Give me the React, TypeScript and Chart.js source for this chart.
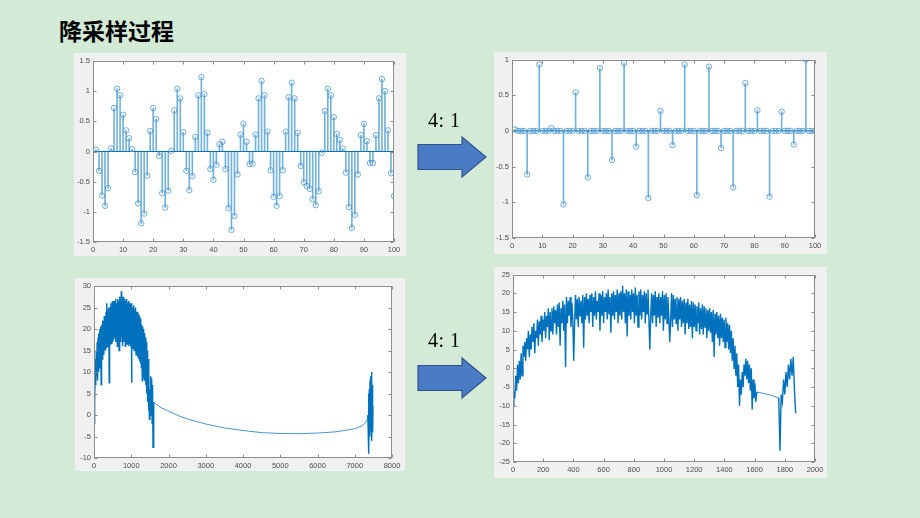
import React, { useEffect, useRef } from "react";
import { Chart, registerables } from "chart.js";

Chart.register(...registerables);

// ---------------- data ----------------
const TITLE = "降采样过程";
const RATIO_LABEL = "4: 1";

// original sequence (top-left stem plot), samples n = 1..100
const ORIGINAL_VALUES = [
  0.03, -0.32, -0.73, -0.9, -0.61, 0.05, 0.72, 1.04, 0.93, 0.61,
  0.35, 0.22, 0.04, -0.34, -0.86, -1.19, -1.03, -0.4, 0.34, 0.72,
  0.54, -0.07, -0.69, -0.93, -0.65, 0.01, 0.68, 1.04, 0.88, 0.32,
  -0.32, -0.64, -0.41, 0.24, 0.93, 1.23, 0.95, 0.31, -0.29, -0.47,
  -0.22, 0.12, 0.16, -0.29, -0.94, -1.3, -1.07, -0.38, 0.28, 0.46,
  0.16, -0.21, -0.2, 0.28, 0.88, 1.17, 0.93, 0.33, -0.31, -0.75,
  -0.9, -0.74, -0.31, 0.33, 0.9, 1.14, 0.88, 0.31, -0.24, -0.51,
  -0.57, -0.62, -0.79, -0.89, -0.66, -0.02, 0.67, 1.04, 0.93, 0.57,
  0.29, 0.19, 0.05, -0.35, -0.92, -1.27, -1.05, -0.38, 0.27, 0.46,
  0.17, -0.19, -0.19, 0.27, 0.88, 1.2, 1.0, 0.35, -0.36, -0.74,
];

// down-sampled sequence (top-right stem plot), samples n = 1..100
const DOWNSAMPLED_VALUES = [
  0.02, 0, 0, 0, -0.61, 0, 0, 0, 0.93, 0, 0, 0, 0.04, 0, 0, 0, -1.03, 0, 0, 0,
  0.54, 0, 0, 0, -0.65, 0, 0, 0, 0.88, 0, 0, 0, -0.41, 0, 0, 0, 0.95, 0, 0, 0,
  -0.22, 0, 0, 0, -0.94, 0, 0, 0, 0.28, 0, 0, 0, -0.2, 0, 0, 0, 0.93, 0, 0, 0,
  -0.9, 0, 0, 0, 0.9, 0, 0, 0, -0.24, 0, 0, 0, -0.79, 0, 0, 0, 0.67, 0, 0, 0,
  0.29, 0, 0, 0, -0.92, 0, 0, 0, 0.27, 0, 0, 0, -0.19, 0, 0, 0, 1.0, 0, 0, 0,
];

const STEM_X_TICKS = [0, 10, 20, 30, 40, 50, 60, 70, 80, 90, 100];
const TL_Y_TICKS = [-1.5, -1, -0.5, 0, 0.5, 1, 1.5];
const TR_Y_TICKS = [-1.5, -1, -0.5, 0, 0.5, 1];

// bottom-left spectrum (original): noisy band, smooth curve, tail burst
const BL_NOISE_START = 0;
const BL_NOISE_STEP = 12;
const BL_NOISE = [
  -2, 8, 3, 13, 7, 15, 9, 17, 8, 18,
  10, 19, 11, 20, 12, 20.5, 7, 21, 13, 22,
  14, 21.5, 14, 23, 15, 22.5, 15, 24, 15.5, 26,
  16, 24.5, 16, 25, 7.5, 25, 16.5, 26, 17, 25,
  16.5, 26.5, 17, 25.5, 17.5, 26.5, 18, 26, 17, 27,
  18, 26, 16, 27, 18, 26.5, 15, 27.5, 18, 26.5,
  17, 28.8, 18, 27, 16, 27.5, 17, 26.5, 17.5, 27,
  16, 26.5, 17, 27, 16.5, 26, 17, 26.5, 16, 26,
  16.5, 25.5, 16, 26, 7.5, 25.5, 15.5, 25, 16, 25.5,
  15, 24.5, 15, 25, 14, 24, 14.5, 24, 13.5, 23.5,
  13, 23, 12.5, 22.5, 12, 22, 11, 21, 8, 20.5,
  10, 20, 9, 19, 8, 18, 7, 17, 5, 15,
  3, 13, 1, 10, -1, 6, 1, 9, 0, 8.5,
  -2, 7, -7.5, 3,
];
const BL_CURVE_X = [1610, 1700, 1800, 2000, 2250, 2500, 2750, 3000, 3500, 4000, 4500, 5000, 5500, 6000, 6500, 7000, 7200, 7300, 7340];
const BL_CURVE_Y = [2.9, 2.3, 1.7, 0.9, -0.1, -0.9, -1.5, -2.1, -3.0, -3.6, -4.1, -4.3, -4.35, -4.2, -3.9, -3.2, -2.5, -1.7, -1.0];
const BL_TAIL_START = 7350;
const BL_TAIL_STEP = 10;
const BL_TAIL = [0, -3, 5, -9, 6, -5, 8, -2, 9, -3, 10, -6, 7, -4, 2];
const BL_X_TICKS = [0, 1000, 2000, 3000, 4000, 5000, 6000, 7000, 8000];
const BL_Y_TICKS = [-10, -5, 0, 5, 10, 15, 20, 25, 30];

// bottom-right spectrum (down-sampled)
const BR_NOISE_START = 0;
const BR_NOISE_STEP = 6;
const BR_NOISE = [
  -10, -6, -8, -2, -6, 1, -4, 2, -3, 4,
  -2, 6, 3, 7, 2, 8, 5, 10, 3, 9,
  5, 11, 7, 12, 4, 10, 8, 13, 6, 12.5,
  9, 14, 7, 13, 10, 15, 8, 14, 11, 16,
  7.5, 15, 10, 16, 9, 16.5, 12, 15.5, 9, 17,
  11, 17.5, 6, 16, 12, 18, 10, 17, 0.3, 19,
  12, 18, 14, 19, 11, 17.5, 13, 2, 12, 19.5,
  13, 18.5, 11, 19, 14, 18, 12, 19.5, 5.5, 19,
  13, 20, 14, 18.5, 12, 19.5, 15, 20, 11, 19,
  14, 20.5, 13, 18, 15, 20, 10, 19.5, 14, 20.5,
  12, 19, 15, 20, 13, 21, 14.5, 19, 9.5, 20,
  14, 20.5, 13, 19.5, 15, 21, 12, 20, 14, 20.5,
  13, 22, 15, 20, 12, 21, 8.5, 20.5, 14, 19.5,
  13, 21, 15, 20, 12, 21.5, 14, 19.5, 11, 20.5,
  14, 21, 13, 19.5, 15, 20.5, 12, 20, 14.5, 21,
  13, 5, 14, 20, 12, 19.5, 14, 20.5, 11, 19,
  13.5, 20, 12, 19, 14, 20.5, 10, 19.5, 13, 20,
  12, 19, 14, 7, 12.5, 20, 11, 19.5, 13, 18.5,
  12, 19, 10, 18.5, 13, 19, 11, 18, 12, 18.5,
  9, 17.5, 12, 18.5, 10.5, 17, 11, 18, 8, 17.5,
  11, 17, 10, 16.5, 12, 17.5, 9, 16, 10.5, 17,
  9, 16.5, 11, 16, 8, 15.5, 10, 16, 9.5, 15,
  7, 15.5, 3, 14.5, 9, 15, 8, 14, 6, 14.5,
  8, 13.5, 7, 13, 5.5, 13.5, 7, 12, 5, 11.5,
  4, 10, 2, 8, 0, 6, -2, 4, -5, 1,
  -10, -3, -7, -1, -5, 1, -2, 2.5, -3, 2,
  -4, 1, -6, 0, -11, -3, -8, -4, -9, -6.5,
];
const BR_CURVE_X = [1624, 1700, 1758];
const BR_CURVE_Y = [-6.4, -7.1, -7.9];
const BR_TAIL_START = 1760;
const BR_TAIL_STEP = 8;
const BR_TAIL = [-8, -22, -7, -9, -3, -7, -1, -5, 1, -3, 2.5, -2, 3, -6, -12];
const BR_X_TICKS = [0, 200, 400, 600, 800, 1000, 1200, 1400, 1600, 1800, 2000];
const BR_Y_TICKS = [-25, -20, -15, -10, -5, 0, 5, 10, 15, 20, 25];

// ---------------- styles ----------------
const PAGE_BG = "#d3ead6";
const PANEL_BG = "#f0f0f0";
const LINE_BLUE = "#0072BD";
const STEM_BLUE = "rgba(0,114,189,0.55)";
const THIN_BLUE = "#4a95d2";
const AXIS_COLOR = "#8c8c8c";
const TICK_COLOR = "#4d4d4d";
const TICK_FONT = "'Liberation Sans', Arial, sans-serif";

type Box = { left: number; top: number; width: number; height: number; padL: number; padT: number; padR: number; padB: number };

const TL_BOX: Box = { left: 74, top: 53, width: 332, height: 203, padL: 19, padT: 8, padR: 12, padB: 14 };
const TR_BOX: Box = { left: 494, top: 52, width: 333, height: 202, padL: 18, padT: 7, padR: 12, padB: 16 };
const BL_BOX: Box = { left: 75, top: 278, width: 330, height: 193, padL: 19, padT: 8, padR: 13, padB: 13 };
const BR_BOX: Box = { left: 494, top: 267, width: 333, height: 211, padL: 19, padT: 7, padR: 12, padB: 16 };

const fmt = (v: any) => String(Math.round(Number(v) * 100) / 100);

const framePlugin = {
  id: "matlabFrame",
  beforeDraw(chart: any) {
    const { ctx, chartArea: a } = chart;
    ctx.save();
    ctx.fillStyle = "#ffffff";
    ctx.fillRect(a.left, a.top, a.right - a.left, a.bottom - a.top);
    ctx.restore();
  },
  afterDraw(chart: any) {
    const { ctx, chartArea: a, scales } = chart;
    const L = Math.round(a.left) + 0.5;
    const R = Math.round(a.right) - 0.5;
    const T = Math.round(a.top) + 0.5;
    const B = Math.round(a.bottom) - 0.5;
    ctx.save();
    ctx.strokeStyle = AXIS_COLOR;
    ctx.lineWidth = 1;
    ctx.strokeRect(L, T, R - L, B - T);
    const tl = 3;
    ctx.beginPath();
    scales.x.ticks.forEach((t: any) => {
      const p = Math.round(scales.x.getPixelForValue(t.value)) + 0.5;
      ctx.moveTo(p, B);
      ctx.lineTo(p, B - tl);
      ctx.moveTo(p, T);
      ctx.lineTo(p, T + tl);
    });
    scales.y.ticks.forEach((t: any) => {
      const p = Math.round(scales.y.getPixelForValue(t.value)) + 0.5;
      ctx.moveTo(L, p);
      ctx.lineTo(L + tl, p);
      ctx.moveTo(R, p);
      ctx.lineTo(R - tl, p);
    });
    ctx.stroke();
    ctx.restore();
  },
};

function axis(min: number, max: number, ticks: number[], size: number, isX: boolean) {
  return {
    type: "linear",
    min,
    max,
    offset: false,
    afterBuildTicks: (s: any) => {
      s.ticks = ticks.map((v) => ({ value: v }));
    },
    afterFit: (s: any) => {
      if (isX) s.height = size;
      else s.width = size;
    },
    grid: { display: false, drawTicks: false, offset: false },
    border: { display: false },
    ticks: {
      autoSkip: false,
      maxRotation: 0,
      minRotation: 0,
      padding: 3,
      color: TICK_COLOR,
      font: { family: TICK_FONT, size: 7.5 },
      callback: (v: any) => fmt(v),
    },
  };
}

function baseOptions(box: Box, xMin: number, xMax: number, xTicks: number[], yMin: number, yMax: number, yTicks: number[]) {
  return {
    animation: false,
    responsive: false,
    events: [],
    layout: { padding: { left: 0, top: box.padT, right: box.padR, bottom: 0 } },
    plugins: { legend: { display: false }, tooltip: { enabled: false } },
    scales: {
      x: axis(xMin, xMax, xTicks, box.padB, true),
      y: axis(yMin, yMax, yTicks, box.padL, false),
    },
  };
}

function stemConfig(values: number[], box: Box, yMin: number, yMax: number, yTicks: number[]) {
  const pts = values.map((v, i) => ({ x: i + 1, y: v }));
  return {
    type: "bar",
    data: {
      datasets: [
        {
          type: "line",
          data: pts,
          showLine: false,
          pointRadius: 2.7,
          pointBorderWidth: 0.8,
          pointBorderColor: THIN_BLUE,
          pointBackgroundColor: "rgba(0,0,0,0)",
          order: 0,
        },
        {
          type: "bar",
          data: pts,
          backgroundColor: STEM_BLUE,
          barThickness: 1,
          borderWidth: 0,
          order: 1,
        },
        {
          type: "line",
          data: [
            { x: 0, y: 0 },
            { x: 100, y: 0 },
          ],
          borderColor: LINE_BLUE,
          borderWidth: 1,
          pointRadius: 0,
          order: 2,
        },
      ],
    },
    options: baseOptions(box, 0, 100, STEM_X_TICKS, yMin, yMax, yTicks),
    plugins: [framePlugin],
  };
}

function spectrumPoints(
  noise: number[], nStart: number, nStep: number,
  cx: number[], cy: number[],
  tail: number[], tStart: number, tStep: number
) {
  const pts: { x: number; y: number }[] = [];
  noise.forEach((v, i) => pts.push({ x: nStart + i * nStep, y: v }));
  cx.forEach((x, i) => pts.push({ x, y: cy[i] }));
  tail.forEach((v, i) => pts.push({ x: tStart + i * tStep, y: v }));
  return pts;
}

function lineConfig(pts: any[], box: Box, xMax: number, xTicks: number[], yMin: number, yMax: number, yTicks: number[], denseStep: number) {
  const isSmooth = (c: any) => c.p1.parsed.x - c.p0.parsed.x > denseStep * 1.5;
  return {
    type: "line",
    data: {
      datasets: [
        {
          data: pts,
          borderColor: LINE_BLUE,
          borderWidth: 1.4,
          pointRadius: 0,
          tension: 0,
          segment: {
            borderWidth: (c: any) => (isSmooth(c) ? 1 : 1.4),
            borderColor: (c: any) => (isSmooth(c) ? THIN_BLUE : LINE_BLUE),
          },
        },
      ],
    },
    options: baseOptions(box, 0, xMax, xTicks, yMin, yMax, yTicks),
    plugins: [framePlugin],
  };
}

function Panel({ box, build }: { box: Box; build: () => any }) {
  const ref = useRef<HTMLCanvasElement>(null);
  useEffect(() => {
    const chart = new Chart(ref.current as HTMLCanvasElement, build());
    return () => chart.destroy();
  }, []);
  return (
    <div
      style={{
        position: "absolute",
        left: box.left,
        top: box.top,
        width: box.width,
        height: box.height,
        background: PANEL_BG,
      }}
    >
      <canvas
        ref={ref}
        width={box.width}
        height={box.height}
        style={{ display: "block", width: box.width, height: box.height }}
      />
    </div>
  );
}

function Arrow({ cy }: { cy: number }) {
  const x0 = 418;
  const xh = 462;
  const tip = 486;
  const bh = 12.5;
  const hh = 20;
  const pts = [
    [x0, cy - bh],
    [xh, cy - bh],
    [xh, cy - hh],
    [tip, cy],
    [xh, cy + hh],
    [xh, cy + bh],
    [x0, cy + bh],
  ]
    .map((p) => p.join(","))
    .join(" ");
  return <polygon points={pts} fill="#4a7cc6" stroke="#2f528f" strokeWidth={1.2} />;
}

function RatioText({ top }: { top: number }) {
  return (
    <div
      style={{
        position: "absolute",
        left: 428,
        top,
        fontFamily: "'Liberation Serif', 'Times New Roman', serif",
        fontSize: 20,
        lineHeight: "20px",
        color: "#000",
        whiteSpace: "pre",
        letterSpacing: 0.5,
      }}
    >
      {RATIO_LABEL}
    </div>
  );
}

export default function App() {
  const blPts = spectrumPoints(BL_NOISE, BL_NOISE_START, BL_NOISE_STEP, BL_CURVE_X, BL_CURVE_Y, BL_TAIL, BL_TAIL_START, BL_TAIL_STEP);
  const brPts = spectrumPoints(BR_NOISE, BR_NOISE_START, BR_NOISE_STEP, BR_CURVE_X, BR_CURVE_Y, BR_TAIL, BR_TAIL_START, BR_TAIL_STEP);
  return (
    <div
      style={{
        position: "absolute",
        left: 0,
        top: 0,
        width: 920,
        height: 518,
        background: PAGE_BG,
        overflow: "hidden",
      }}
    >
      <div
        style={{
          position: "absolute",
          left: 59,
          top: 19,
          fontFamily: "'Noto Sans CJK SC', 'Noto Sans', sans-serif",
          fontWeight: 700,
          fontSize: 23,
          lineHeight: "23px",
          color: "#000",
          whiteSpace: "nowrap",
        }}
      >
        {TITLE}
      </div>
      <Panel box={TL_BOX} build={() => stemConfig(ORIGINAL_VALUES, TL_BOX, -1.5, 1.5, TL_Y_TICKS)} />
      <Panel box={TR_BOX} build={() => stemConfig(DOWNSAMPLED_VALUES, TR_BOX, -1.5, 1, TR_Y_TICKS)} />
      <Panel box={BL_BOX} build={() => lineConfig(blPts, BL_BOX, 8000, BL_X_TICKS, -10, 30, BL_Y_TICKS, BL_TAIL_STEP * 2)} />
      <Panel box={BR_BOX} build={() => lineConfig(brPts, BR_BOX, 2000, BR_X_TICKS, -25, 25, BR_Y_TICKS, BR_TAIL_STEP)} />
      <svg width={920} height={518} style={{ position: "absolute", left: 0, top: 0, pointerEvents: "none" }}>
        <Arrow cy={157} />
        <Arrow cy={378} />
      </svg>
      <RatioText top={110} />
      <RatioText top={330} />
    </div>
  );
}
